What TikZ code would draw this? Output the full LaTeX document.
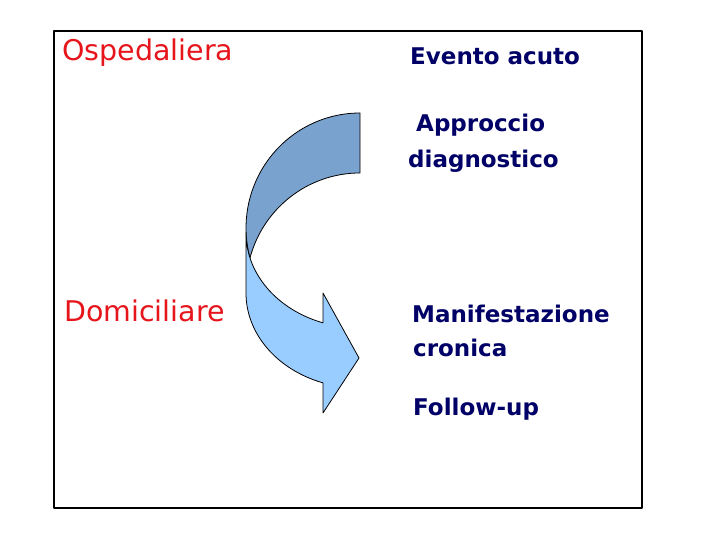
\documentclass[tikz,border=0pt]{standalone}
\usepackage{fontspec}
\setmainfont{DejaVu Sans}
\usepackage{xcolor}
\usepackage{tikz}
\usetikzlibrary{calc}
\definecolor{ribbondark}{RGB}{122,162,206}
\definecolor{ribbonlight}{RGB}{153,204,255}
\definecolor{labelred}{RGB}{230,20,27}
\definecolor{labelnavy}{RGB}{0,0,102}

\begin{document}
\begin{tikzpicture}[x=1pt,y=1pt,line join=round,
  ribbon/.style={draw=black,line width=0.8pt},
  place/.style={anchor=base west,inner sep=0pt,text=labelred,font=\fontsize{28.5}{32}\selectfont},
  stage/.style={anchor=base west,inner sep=0pt,text=labelnavy,font=\bfseries\fontsize{23}{28}\selectfont}]
  \useasboundingbox (0,0) rectangle (720,540);
  \coordinate (BL) at (54,32);
  \coordinate (TR) at (642,509);
  \draw[line width=1.3pt] (BL) rectangle (TR);
  % back band
  \coordinate (UO) at (360,427);
  \draw[ribbon,fill=ribbondark] (UO)
    arc[start angle=90,end angle=195.12,x radius=114pt,y radius=115pt]
    arc[start angle=164.88,end angle=90,x radius=114pt,y radius=115pt] -- cycle;
  % front band with head
  \coordinate (LI) at (246,307);
  \coordinate (HT) at (323,247);
  \coordinate (HP) at (359,182);
  \coordinate (HB) at (323,127);
  \coordinate (LO) at (323,157.1);
  \draw[ribbon,fill=ribbonlight] (LI)
    arc[start angle=180,end angle=251.06,x radius=114pt,y radius=95pt]
    -- (HT) -- (HP) -- (HB) -- (LO)
    arc[start angle=251.06,end angle=180,x radius=114pt,y radius=95pt] -- cycle;
  % labels
  \node[place] (osp) at (62,479) {Ospedaliera};
  \node[place] (dom) at (64,218) {Domiciliare};
  \node[stage] (eve) at (410,475) {Evento acuto};
  \node[stage] (app) at (416,408) {Approccio};
  \node[stage] (dia) at (408,372) {diagnostico};
  \node[stage] (man) at (412,217) {Manifestazione};
  \node[stage] (cro) at (413,183) {cronica};
  \node[stage] (fol) at (413,124) {Follow-up};
\end{tikzpicture}
\end{document}
